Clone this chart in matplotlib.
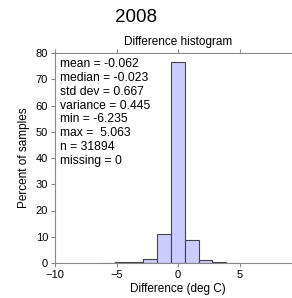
import numpy as np
import matplotlib
matplotlib.use('Agg')
import matplotlib.pyplot as plt

plt.rcParams['font.family'] = ['Liberation Sans', 'DejaVu Sans']

# bin edges (10 bins from min to max) and percent of samples per bin
bin_edges = [-6.235, -5.105, -3.975, -2.846, -1.716, -0.586, 0.544, 1.674, 2.804, 3.933, 5.063]
percent = [0.1, 0.2, 0.5, 1.6, 10.9, 76.6, 8.6, 1.3, 0.2, 0.1]

stats_lines = ['mean = -0.062', 'median = -0.023', 'std dev = 0.667', 'variance = 0.445',
               'min = -6.235', 'max =  5.063', 'n = 31894', 'missing = 0']

fig = plt.figure(figsize=(2.92, 2.98), dpi=100)
ax = fig.add_axes([55 / 292, 35 / 298, 246 / 292, 210 / 298])

edges = np.array(bin_edges)
ax.bar(edges[:-1], percent, width=np.diff(edges), align='edge',
       color='#ccccff', edgecolor='#444444', linewidth=0.8)

ax.set_xlim(-10, 10)
ax.set_ylim(0, 80)
ax.set_xticks([-10, -5, 0, 5])
ax.set_yticks(range(0, 81, 10))

for side in ['left', 'bottom', 'top']:
    ax.spines[side].set_color('#888888')
    ax.spines[side].set_linewidth(0.8)
ax.spines['right'].set_visible(False)
ax.tick_params(axis='both', direction='out', length=3, width=0.8, color='#888888',
               labelsize=8, pad=2)
ax.tick_params(axis='x', top=True)

ax.set_xlabel('Difference (deg C)', fontsize=8.5, labelpad=2)
ax.set_ylabel('Percent of samples', fontsize=8.5, labelpad=4)

ax.text(0.02, 0.975, '\n'.join(stats_lines), transform=ax.transAxes,
        fontsize=8.7, va='top', ha='left', linespacing=1.2)

fig.text(178 / 292, 1 - 42 / 298, 'Difference histogram', fontsize=8.5, ha='center', va='center')
fig.text(136 / 292, 1 - 18 / 298, '2008', fontsize=13.5, ha='center', va='center')

fig.savefig('out.png', dpi=100)
